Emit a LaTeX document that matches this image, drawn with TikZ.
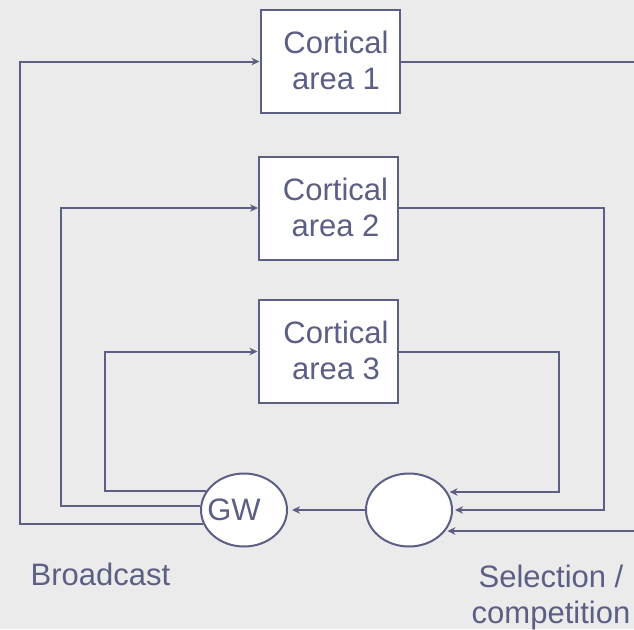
\documentclass[tikz,border=0pt]{standalone}
\usepackage{fontspec}
\setmainfont{Liberation Sans}
\usetikzlibrary{arrows.meta,shapes.geometric}
\definecolor{ink}{HTML}{5C5F84}
\definecolor{paper}{HTML}{EBEBEB}
\begin{document}
\begin{tikzpicture}[x=1pt,y=-1pt,
  wire/.style={draw=ink,line width=2pt},
  feed/.style={wire,-{Stealth[length=8pt,width=7.5pt,inset=2.5pt]}},
  area/.style={draw=ink,line width=2pt,fill=white,rectangle,
    minimum width=139pt,minimum height=103pt,inner sep=0pt},
  hub/.style={draw=ink,line width=2pt,fill=white,ellipse,
    minimum width=86pt,minimum height=73pt,inner sep=0pt},
  txt/.style={text=ink,font=\fontsize{31}{36}\selectfont,align=center}]
\fill[paper] (0,0) rectangle (634,629);
\useasboundingbox (0,0) rectangle (634,629);

% cortical areas
\node[area,label={[txt,xshift=6pt,yshift=1pt]center:Cortical\\area 1}] (a1) at (330,61.5) {};
\node[area,label={[txt,xshift=7pt,yshift=1pt]center:Cortical\\area 2}] (a2) at (328.5,208) {};
\node[area,label={[txt,xshift=8pt,yshift=1pt]center:Cortical\\area 3}] (a3) at (328,351.5) {};

% global workspace and the selection stage
\node[hub,label={[txt,xshift=-10pt]center:GW}] (gw) at (244,510) {};
\node[hub] (sel) at (409,510) {};

% captions
\node[txt,anchor=base] (bc) at (100.5,585) {Broadcast};
\node[txt,anchor=base] (sc) at (551,623) {Selection /\\competition};

% vertical runs of the loops
\coordinate (v1) at (20,0);
\coordinate (v2) at (61,0);
\coordinate (v3) at (105,0);
\coordinate (v4) at (640,0);
\coordinate (v5) at (604,0);
\coordinate (v6) at (559,0);

% broadcast from GW to every area
\draw[feed] (gw.199) -| (v1 |- a1.west) -- (a1.west);
\draw[feed] (gw.175) -| (v2 |- a2.west) -- (a2.west);
\draw[feed] (gw.153) -| (v3 |- a3.west) -- (a3.west);

% areas feed the competition
\draw[feed,shorten >=2pt] (a1.east) -| (v4 |- sel.-30) -- (sel.-30);
\draw[feed,shorten >=2pt] (a2.east) -| (v5 |- sel.east) -- (sel.east);
\draw[feed,shorten >=2pt] (a3.east) -| (v6 |- sel.25) -- (sel.25);

% winner enters the workspace
\draw[feed,shorten >=4pt] (sel.west) -- (gw.east);
\end{tikzpicture}
\end{document}
